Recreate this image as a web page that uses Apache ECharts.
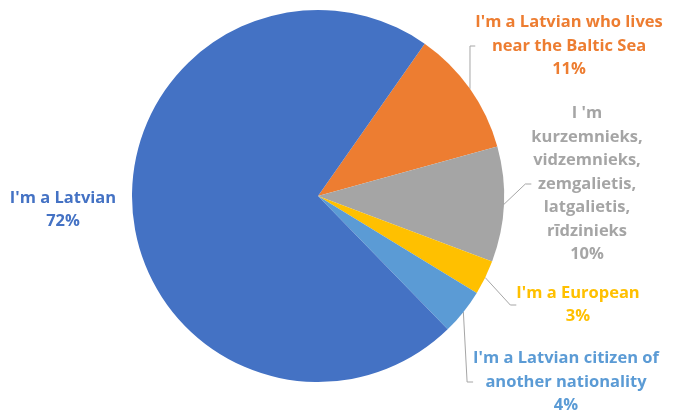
<!DOCTYPE html>
<html>
<head>
<meta charset="utf-8">
<script src="https://cdn.jsdelivr.net/npm/echarts@6/dist/echarts.min.js"></script>
<style>
  html, body { margin: 0; padding: 0; background: #ffffff; }
  #chart { width: 676px; height: 412px; }
</style>
</head>
<body>
<div id="chart"></div>
<script>
// Self-identification shares (percent)
const categories = [
  "I'm a Latvian who lives\nnear the Baltic Sea",
  "I 'm\nkurzemnieks,\nvidzemnieks,\nzemgalietis,\nlatgalietis,\nrīdzinieks",
  "I'm a European",
  "I'm a Latvian citizen of\nanother nationality",
  "I'm a Latvian"
];
const values = [11, 10, 3, 4, 72];
const sliceColors = ['#ED7D31', '#A5A5A5', '#FFC000', '#5B9BD5', '#4472C4'];

// Centre point of each label block
const labelSpots = [[569, 46], [587, 184], [578, 305], [566, 382], [63, 210]];

const chart = echarts.init(document.getElementById('chart'), null, { renderer: 'canvas' });

chart.setOption({
  animation: false,
  backgroundColor: '#ffffff',
  series: [{
    type: 'pie',
    center: [318, 196],
    radius: [0, 186],
    startAngle: 55,
    clockwise: true,
    avoidLabelOverlap: false,
    data: categories.map((name, i) => ({
      name: name,
      value: values[i],
      itemStyle: { color: sliceColors[i] },
      label: { color: sliceColors[i] },
      // the large slice's label sits clear of the pie without a leader
      labelLine: { show: i !== 4 }
    })),
    itemStyle: { borderWidth: 0 },
    label: {
      show: true,
      position: 'outside',
      formatter: p => p.name + '\n' + p.value + '%',
      fontFamily: 'Open Sans',
      fontWeight: 'bold',
      fontSize: 16.5,
      lineHeight: 23.5,
      align: 'center'
    },
    labelLine: {
      show: true,
      length: 10,
      length2: 6,
      lineStyle: { color: '#A6A6A6', width: 1 }
    },
    labelLayout: function (params) {
      const s = labelSpots[params.dataIndex];
      return { x: s[0], y: s[1], align: 'center', verticalAlign: 'middle' };
    },
    emphasis: { disabled: true }
  }]
});
</script>
</body>
</html>
